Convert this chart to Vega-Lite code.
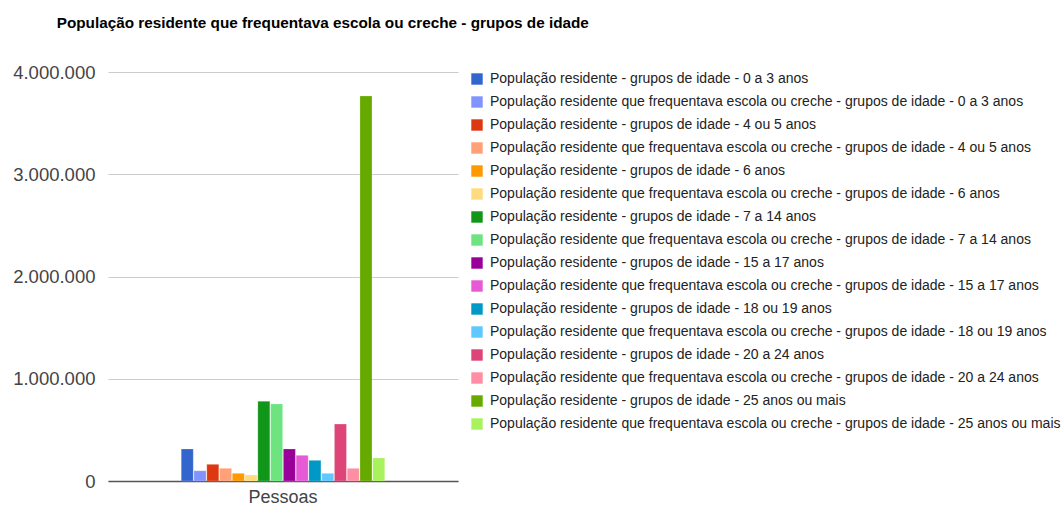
{
  "$schema": "https://vega.github.io/schema/vega-lite/v6.json",
  "width": 350,
  "height": 409,
  "autosize": {"type": "none"},
  "padding": {"left": 108, "top": 72, "right": 603, "bottom": 28},
  "title": {"text": "População residente que frequentava escola ou creche - grupos de idade", "anchor": "start", "dx": 44, "offset": 32, "font": "Liberation Sans", "fontSize": 15.3, "fontWeight": "bold", "color": "#000"},
  "config": {
    "locale": {"number": {"decimal": ",", "thousands": ".", "grouping": [3], "currency": ["R$", ""]}},
    "view": {"stroke": null},
    "font": "Liberation Sans"
  },
  "data": {"values": [
    {"k": 1, "serie": "População residente - grupos de idade - 0 a 3 anos", "cat": "Pessoas", "v": 313000},
    {"k": 2, "serie": "População residente que frequentava escola ou creche - grupos de idade - 0 a 3 anos", "cat": "Pessoas", "v": 100000},
    {"k": 3, "serie": "População residente - grupos de idade - 4 ou 5 anos", "cat": "Pessoas", "v": 163000},
    {"k": 4, "serie": "População residente que frequentava escola ou creche - grupos de idade - 4 ou 5 anos", "cat": "Pessoas", "v": 124000},
    {"k": 5, "serie": "População residente - grupos de idade - 6 anos", "cat": "Pessoas", "v": 75000},
    {"k": 6, "serie": "População residente que frequentava escola ou creche - grupos de idade - 6 anos", "cat": "Pessoas", "v": 58000},
    {"k": 7, "serie": "População residente - grupos de idade - 7 a 14 anos", "cat": "Pessoas", "v": 779000},
    {"k": 8, "serie": "População residente que frequentava escola ou creche - grupos de idade - 7 a 14 anos", "cat": "Pessoas", "v": 753000},
    {"k": 9, "serie": "População residente - grupos de idade - 15 a 17 anos", "cat": "Pessoas", "v": 313000},
    {"k": 10, "serie": "População residente que frequentava escola ou creche - grupos de idade - 15 a 17 anos", "cat": "Pessoas", "v": 251000},
    {"k": 11, "serie": "População residente - grupos de idade - 18 ou 19 anos", "cat": "Pessoas", "v": 202000},
    {"k": 12, "serie": "População residente que frequentava escola ou creche - grupos de idade - 18 ou 19 anos", "cat": "Pessoas", "v": 75000},
    {"k": 13, "serie": "População residente - grupos de idade - 20 a 24 anos", "cat": "Pessoas", "v": 557000},
    {"k": 14, "serie": "População residente que frequentava escola ou creche - grupos de idade - 20 a 24 anos", "cat": "Pessoas", "v": 124000},
    {"k": 15, "serie": "População residente - grupos de idade - 25 anos ou mais", "cat": "Pessoas", "v": 3765000},
    {"k": 16, "serie": "População residente que frequentava escola ou creche - grupos de idade - 25 anos ou mais", "cat": "Pessoas", "v": 225000}
  ]},
  "mark": {"type": "bar", "stroke": "white", "strokeOpacity": 0.4, "strokeWidth": 0.5},
  "encoding": {
    "x": {"field": "cat", "type": "nominal", "title": null,
      "scale": {"paddingInner": 0, "paddingOuter": 0.36},
      "axis": {"labelAngle": 0, "ticks": false, "domainColor": "#555", "domainWidth": 1.5, "labelFontSize": 18, "labelColor": "#444", "labelPadding": 7}},
    "xOffset": {"field": "serie", "type": "nominal", "sort": {"field": "k"}, "scale": {"paddingInner": 0.06}},
    "y": {"field": "v", "type": "quantitative", "title": null,
      "scale": {"domain": [0, 4000000]},
      "axis": {"values": [0, 1000000, 2000000, 3000000, 4000000], "format": ",d", "domain": false, "ticks": false, "gridColor": "#ccc", "labelFontSize": 18.5, "labelColor": "#444", "labelPadding": 13}},
    "color": {"field": "serie", "type": "nominal", "sort": {"field": "k"}, "title": null,
      "scale": {"range": ["#3366cc", "#8093ff", "#dc3912", "#ffa077", "#ff9900", "#ffdb80", "#109618", "#6de47f", "#990099", "#e65ad6", "#0099c6", "#5fc8ff", "#dd4477", "#ff8ea4", "#66aa00", "#a8f25e"]},
      "legend": {"orient": "none", "legendX": 362, "legendY": 0, "symbolType": "square", "symbolSize": 130, "symbolStrokeWidth": 0, "labelFontSize": 14, "labelColor": "#222", "rowPadding": 9, "labelLimit": 700, "labelOffset": 6}}
  }
}
